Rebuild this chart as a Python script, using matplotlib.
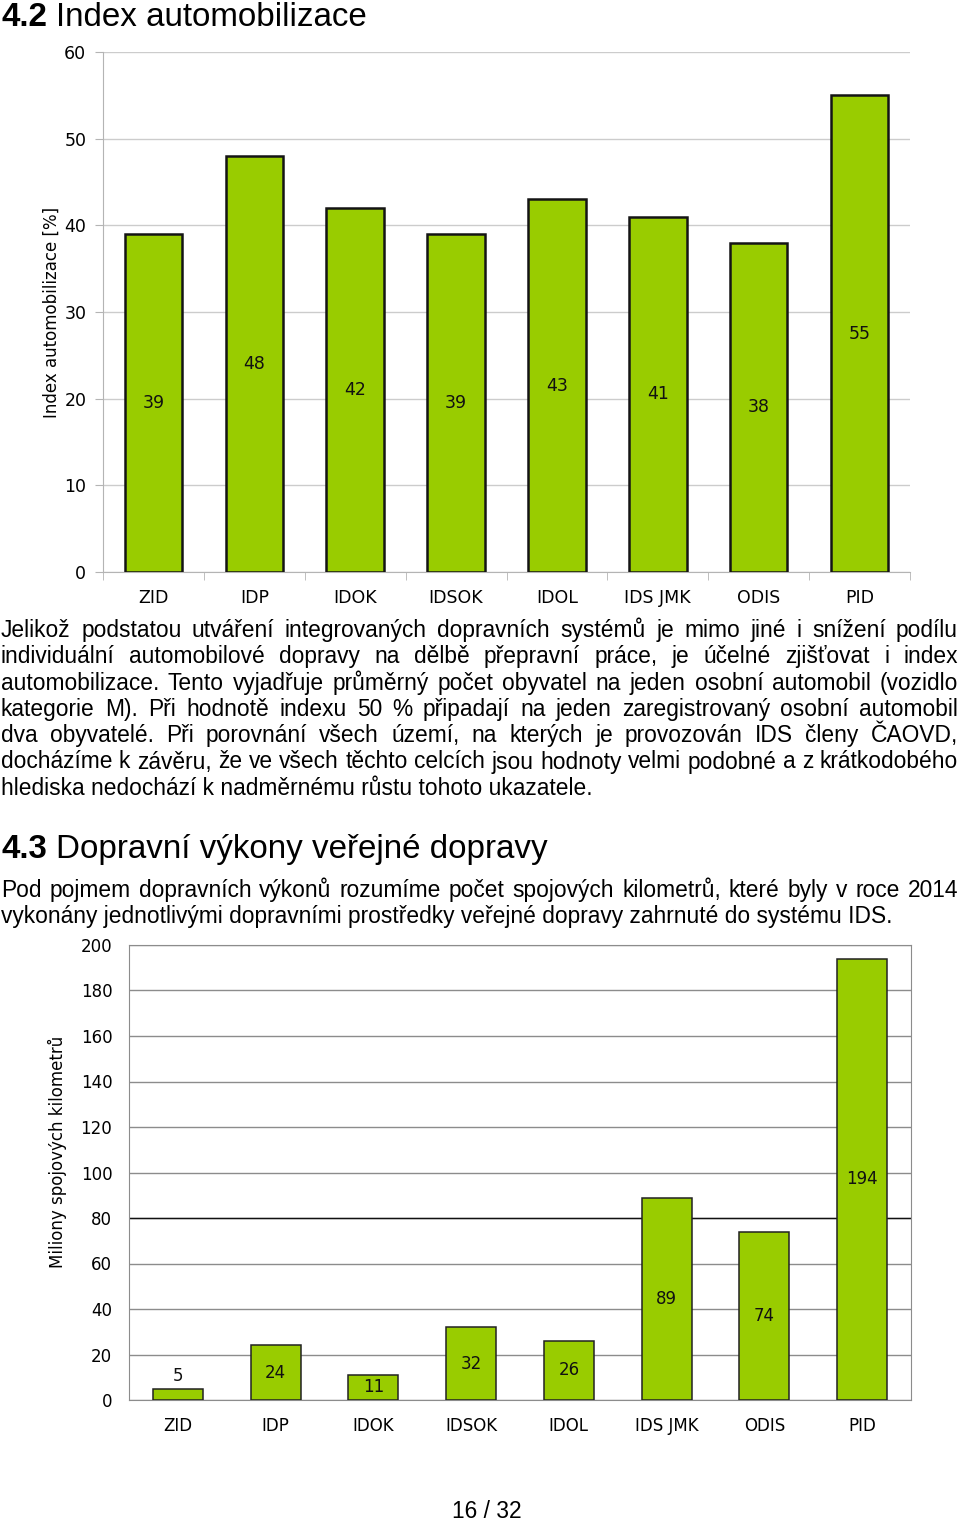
import numpy as np
import matplotlib.pyplot as plt

# data
systemy = ['ZID', 'IDP', 'IDOK', 'IDSOK', 'IDOL', 'IDS JMK', 'ODIS', 'PID']
index_auto = [39, 48, 42, 39, 43, 41, 38, 55]
vykony = [5, 24, 11, 32, 26, 89, 74, 194]

odstavec1 = [
    "Jelikož podstatou utváření integrovaných dopravních systémů je mimo jiné i snížení podílu",
    "individuální automobilové dopravy na dělbě přepravní práce, je účelné zjišťovat i index",
    "automobilizace. Tento vyjadřuje průměrný počet obyvatel na jeden osobní automobil (vozidlo",
    "kategorie M). Při hodnotě indexu 50 % připadají na jeden zaregistrovaný osobní automobil",
    "dva obyvatelé. Při porovnání všech území, na kterých je provozován IDS členy ČAOVD,",
    "docházíme k závěru, že ve všech těchto celcích jsou hodnoty velmi podobné a z krátkodobého",
    "hlediska nedochází k nadměrnému růstu tohoto ukazatele.",
]
odstavec2 = [
    "Pod pojmem dopravních výkonů rozumíme počet spojových kilometrů, které byly v roce 2014",
    "vykonány jednotlivými dopravními prostředky veřejné dopravy zahrnuté do systému IDS.",
]

W, H = 960, 1520
BODY = ['Liberation Sans', 'DejaVu Sans']
CHART = ['DejaVu Sans']
ZELENA = '#99CC00'
TEXT_SIZE = 16.4
HEAD_SIZE = 23.9

fig = plt.figure(figsize=(W / 100, H / 100), dpi=100)
fig.patch.set_facecolor('white')
renderer = fig.canvas.get_renderer()


def fx(px):
    return px / W


def fy(py):
    return 1 - py / H


def radek(text, y, size, justify=True, x0=1, x1=958):
    if not justify:
        fig.text(fx(x0), fy(y), text, fontsize=size, family=BODY, va='baseline')
        return
    slova = text.split(' ')
    objs = [fig.text(0, fy(y), s, fontsize=size, family=BODY, va='baseline') for s in slova]
    sirky = [o.get_window_extent(renderer).width for o in objs]
    mezera = (x1 - x0 - sum(sirky)) / (len(slova) - 1)
    x = x0
    for o, w in zip(objs, sirky):
        o.set_x(fx(x))
        x += w + mezera


def nadpis(cislo, text, y, size):
    t = fig.text(fx(1), fy(y), cislo, fontsize=size, family=BODY, weight='bold', va='baseline')
    w = t.get_window_extent(renderer).width
    fig.text(fx(1 + w + 0.28 * size * 100 / 72), fy(y), text, fontsize=size, family=BODY, va='baseline')


# ---- headings and text ----
nadpis('4.2', 'Index automobilizace', 26, HEAD_SIZE)
for i, r in enumerate(odstavec1):
    radek(r, 637 + i * 26.3, TEXT_SIZE, justify=(i < len(odstavec1) - 1))
nadpis('4.3', 'Dopravní výkony veřejné dopravy', 858, HEAD_SIZE)
for i, r in enumerate(odstavec2):
    radek(r, 897 + i * 26.3, TEXT_SIZE, justify=(i == 0))
fig.text(fx(487), fy(1518), '16 / 32', fontsize=TEXT_SIZE, family=BODY, ha='center', va='baseline')

x = np.arange(len(systemy))

# ---- chart 1: index automobilizace ----
ax1 = fig.add_axes([fx(103), fy(572), fx(910 - 103), (572 - 52) / H])
ax1.bar(x, index_auto, width=0.57, color=ZELENA, edgecolor='#141414', linewidth=1.8, zorder=3)
for i, v in enumerate(index_auto):
    ax1.text(i, v / 2, str(v), ha='center', va='center', fontsize=12.5, family=CHART, color='#111111', zorder=4)
ax1.set_xlim(-0.5, len(systemy) - 0.5)
ax1.set_ylim(0, 60)
ax1.set_yticks(np.arange(0, 61, 10))
ax1.yaxis.grid(True, color='#cccccc', linewidth=1)
ax1.set_axisbelow(True)
for s in ['top', 'right']:
    ax1.spines[s].set_visible(False)
for s in ['left', 'bottom']:
    ax1.spines[s].set_color('#b4b4b4')
ax1.set_xticks(x)
ax1.set_xticklabels(systemy, family=CHART)
ax1.set_xticks(np.arange(-0.5, len(systemy)), minor=True)
ax1.tick_params(axis='x', which='major', length=0, pad=12, labelsize=12.5)
ax1.tick_params(axis='x', which='minor', length=6, color='#b4b4b4')
ax1.tick_params(axis='y', length=6, color='#b4b4b4', labelsize=12.5, pad=6)
for lab in ax1.get_yticklabels():
    lab.set_family(CHART)
fig.text(fx(52), fy(312), 'Index automobilizace [%]', rotation=90, ha='center', va='center',
         fontsize=12, family=CHART)

# ---- chart 2: dopravni vykony ----
ax2 = fig.add_axes([fx(129), fy(1400), fx(911 - 129), (1400 - 945) / H])
ax2.bar(x, vykony, width=0.51, color=ZELENA, edgecolor='#222222', linewidth=1.1, zorder=3)
for i, v in enumerate(vykony):
    if v < 8:
        ax2.text(i, v + 1.5, str(v), ha='center', va='bottom', fontsize=12, family=CHART, color='#111111', zorder=4)
    else:
        ax2.text(i, v / 2, str(v), ha='center', va='center', fontsize=12, family=CHART, color='#111111', zorder=4)
ax2.set_xlim(-0.5, len(systemy) - 0.5)
ax2.set_ylim(0, 200)
ax2.set_yticks(np.arange(0, 201, 20))
ax2.yaxis.grid(True, color='#8c8c8c', linewidth=1)
ax2.axhline(80, color='#111111', linewidth=1, zorder=1)
ax2.set_axisbelow(True)
for s in ax2.spines.values():
    s.set_color('#8c8c8c')
ax2.set_xticks(x)
ax2.set_xticklabels(systemy, family=CHART)
ax2.tick_params(axis='x', length=0, pad=12, labelsize=12)
ax2.tick_params(axis='y', length=0, pad=12, labelsize=12)
for lab in ax2.get_yticklabels():
    lab.set_family(CHART)
fig.text(fx(57), fy(1152), 'Miliony spojových kilometrů', rotation=90, ha='center', va='center',
         fontsize=12, family=CHART)

fig.savefig('out.png', dpi=100, facecolor='white')
